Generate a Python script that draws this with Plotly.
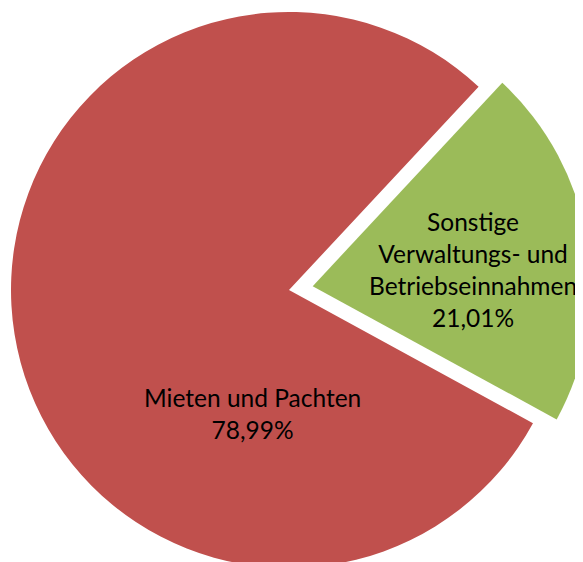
import math
import plotly.graph_objects as go

# ---- data ----
labels = ["Sonstige<br>Verwaltungs- und<br>Betriebseinnahmen", "Mieten und Pachten"]
values = [21.01, 78.99]
colors = ["#9BBB59", "#C0504D"]

# ---- layout geometry (pixels, figure coordinates) ----
W, H = 600, 580
R = 278.0
red_c = (281.0, 282.0)
start_deg = 43.0
pull_px = 24.0

total = sum(values)
mid = math.radians(start_deg + values[0] / total * 180.0)
green_c = (red_c[0] + pull_px * math.sin(mid), red_c[1] - pull_px * math.cos(mid))


def dom(c):
    cxp, cyp = c
    return dict(x=[max(0, (cxp - R) / W), min(1, (cxp + R) / W)],
                y=[max(0, 1 - (cyp + R) / H), min(1, 1 - (cyp - R) / H)])


common = dict(values=values, labels=labels, sort=False, direction="clockwise",
              rotation=start_deg, textinfo="none", hoverinfo="skip",
              showlegend=False)

fig = go.Figure()
# main (red) slice
fig.add_trace(go.Pie(domain=dom(red_c),
                     marker=dict(colors=["rgba(0,0,0,0)", colors[1]], line=dict(width=0)),
                     **common))
# exploded (green) slice
fig.add_trace(go.Pie(domain=dom(green_c),
                     marker=dict(colors=[colors[0], "rgba(0,0,0,0)"], line=dict(width=0)),
                     **common))


def pct(v):
    return f"{v:.2f}".replace(".", ",") + "%"


label_pos = [(465, 261), (244, 405)]
for lab, v, (px, py) in zip(labels, values, label_pos):
    fig.add_annotation(x=px / W, y=1 - py / H, xref="paper", yref="paper",
                       text=f"{lab}<br>{pct(v)}", showarrow=False,
                       xanchor="center", yanchor="middle", align="center",
                       font=dict(family="Lato", size=24.5, color="#000000"))

fig.update_layout(width=W, height=H, margin=dict(l=0, r=0, t=0, b=0),
                  paper_bgcolor="white", plot_bgcolor="white")
fig.write_html("out.html")
